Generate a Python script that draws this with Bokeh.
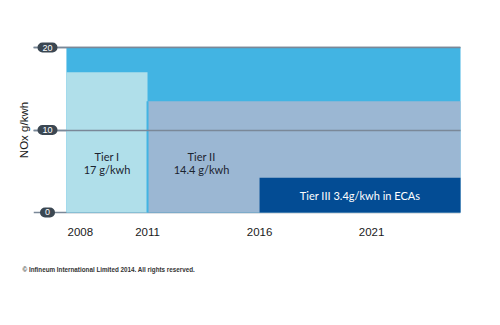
from bokeh.plotting import figure
from bokeh.models import ColumnDataSource, FixedTicker, Range1d, Title, Label, Grid
from bokeh.core.properties import value
from bokeh.embed import file_html
from bokeh.resources import INLINE

# ---- data ----
tiers = ["Tier I", "Tier II", "Tier III"]
tier_start = [2008, 2011, 2016]
tier_limit = [17, 13.5, 4.2]          # bar heights as drawn
tier_text = ["Tier I\n17 g/kwh", "Tier II\n14.4 g/kwh", "Tier III 3.4g/kwh in ECAs"]
year_ticks = [2008, 2011, 2016, 2021]
y_ticks = [0, 10, 20]
y_title = "NOx g/kwh"
copyright_text = "\u00a9 Infineum International Limited 2014. All rights reserved."

# ---- layout / style ----
x_min, x_lo, x_hi = 2005.91, 2007.38, 2024.97   # frame start, chart start, chart end
y_min, y_max = -0.85, 20.85
BG = "#42b4e3"
colors = ["#b0dfea", "#9bb7d3", "#034c94"]
text_colors = ["#1b2430", "#1b2430", "#ffffff"]
GRID = "#7a8898"
PILL = "#3b4752"

p = figure(frame_width=427, frame_height=179, output_backend="svg",
           toolbar_location=None, x_range=Range1d(x_min, x_hi),
           y_range=Range1d(y_min, y_max), min_border_left=33, min_border_top=40,
           min_border_right=40, min_border_bottom=106)
p.background_fill_color = "white"
p.border_fill_color = "white"
p.outline_line_color = None

# chart background (0..20)
p.quad(left=[x_lo], right=[x_hi + 1], bottom=[y_ticks[0]], top=[y_ticks[-1]],
       fill_color=BG, line_color=None)

# bars (extend past the right edge of the frame)
lefts = [x_lo] + tier_start[1:]
rights = [tier_start[1], x_hi + 1, x_hi + 1]
src = ColumnDataSource(dict(left=lefts, right=rights, top=tier_limit,
                            bottom=[0] * 3, color=colors))
p.quad(left="left", right="right", top="top", bottom="bottom",
       fill_color="color", line_color=None, source=src)
# thin blue separator before Tier II
p.segment(x0=[tier_start[1]], x1=[tier_start[1]], y0=[0], y1=[tier_limit[1]],
          line_color=BG, line_width=2)

# labels
lx = [(x_lo + tier_start[1]) / 2, tier_start[1], (tier_start[2] + x_hi) / 2]
ly = [6, 6, tier_limit[2] / 2]
xo = [0, 54, 0]
tsrc = ColumnDataSource(dict(x=lx, y=ly, t=tier_text, c=text_colors, xo=xo))
p.text(x="x", y="y", text="t", text_color="c", x_offset="xo", source=tsrc,
       text_align="center", text_baseline="middle",
       text_font=value("Lato"), text_font_size="11px", text_line_height=0.95)

# grid: full set below the bars, upper lines also drawn above them
p.xgrid.visible = False
p.ygrid.ticker = FixedTicker(ticks=y_ticks)
p.ygrid.grid_line_color = GRID
p.ygrid.grid_line_width = 1.5
p.ygrid.level = "underlay"
p.add_layout(Grid(dimension=1, ticker=FixedTicker(ticks=y_ticks[1:]),
                  grid_line_color=GRID, grid_line_width=1.5, level="annotation"))

# pill tick labels
for v in y_ticks:
    p.add_layout(Label(x=x_min, y=v, x_offset=14, text=str(v),
                       text_align="center", text_baseline="middle",
                       text_font_size="9px", text_font="Liberation Sans",
                       text_color="white", background_fill_color=PILL,
                       border_radius=5, padding=(5, 2), level="overlay"))

# y axis: title only
ya = p.yaxis[0]
ya.ticker = FixedTicker(ticks=[])
ya.axis_line_color = None
ya.major_tick_line_color = None
ya.minor_tick_line_color = None
ya.major_label_standoff = 0
ya.axis_label = y_title
ya.axis_label_standoff = 4
ya.axis_label_text_font = "Liberation Sans"
ya.axis_label_text_font_style = "normal"
ya.axis_label_text_font_size = "11.5px"
ya.axis_label_text_color = "#1a1a1a"

# x axis
xa = p.xaxis[0]
xa.ticker = FixedTicker(ticks=year_ticks)
xa.axis_line_color = None
xa.major_tick_line_color = None
xa.minor_tick_line_color = None
xa.major_label_standoff = 2
xa.major_label_text_font = "Liberation Sans"
xa.major_label_text_font_size = "11.5px"
xa.major_label_text_color = "#1a1a1a"

p.add_layout(Title(text=copyright_text, align="left", offset=-11, standoff=50,
                   text_font="Liberation Sans", text_font_size="6.3px",
                   text_font_style="bold", text_color="#333333"), "below")

open("out.html", "w").write(file_html(p, INLINE))
